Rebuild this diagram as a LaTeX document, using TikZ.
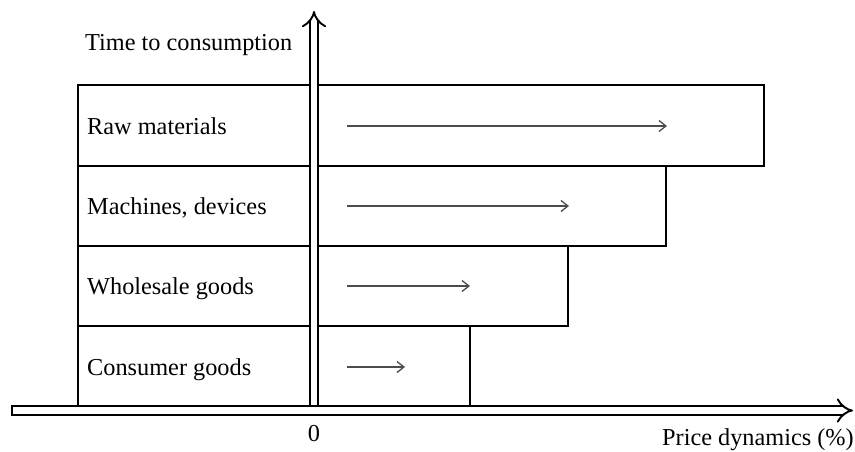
\documentclass[tikz,border=0pt]{standalone}
\usepackage{fontspec}
\setmainfont{Liberation Serif}
\usetikzlibrary{arrows.meta}
\begin{document}
\begin{tikzpicture}[x=1pt,y=-1pt,
  stepbox/.style={draw=black,line width=1.8pt,fill=white,rectangle,anchor=north west,inner sep=0pt},
  lbl/.style={anchor=base west,inner sep=0pt,font=\fontsize{24.3}{28}\selectfont},
  trend/.style={draw=black!70,line width=1.3pt,-{Straight Barb[length=7pt,width=11pt,line width=1.3pt]}},
  axis/.style={line width=1.9pt,double=white,double distance=6.5pt,-{Implies[length=9pt]}}]
\useasboundingbox (0,0) rectangle (855,451);
% boxes
\node[stepbox,minimum width=686,minimum height=81] (raw) at (77,84) {};
\node[stepbox,minimum width=588,minimum height=80] (mach) at (77,165) {};
\node[stepbox,minimum width=490,minimum height=80] (whole) at (77,245) {};
\node[stepbox,minimum width=392,minimum height=81] (cons) at (77,325) {};
% labels
\node[lbl] (lraw) at (87,134) {Raw materials};
\node[lbl] (lmach) at (87,214) {Machines, devices};
\node[lbl] (lwhole) at (87,294) {Wholesale goods};
\node[lbl] (lcons) at (87,375) {Consumer goods};
% trend arrows
\coordinate (a1) at (347,126); \coordinate (b1) at (667,126);
\coordinate (a2) at (347,206); \coordinate (b2) at (569,206);
\coordinate (a3) at (347,286); \coordinate (b3) at (470,286);
\coordinate (a4) at (347,367); \coordinate (b4) at (405,367);
\draw[trend] (a1) -- (b1);
\draw[trend] (a2) -- (b2);
\draw[trend] (a3) -- (b3);
\draw[trend] (a4) -- (b4);
% axes
\coordinate (vbot) at (314,410.5); \coordinate (vtop) at (314,11);
\coordinate (hl) at (12,410.5); \coordinate (hr) at (853,410.5);
\draw[axis] (vbot) -- (vtop);
\draw[axis] (hl) -- (hr);
\draw[line width=1.9pt] ([yshift=-5.2pt]hl) -- ([yshift=5.2pt]hl);
% axis labels
\node[lbl] (ty) at (85,50) {Time to consumption};
\node[lbl,anchor=base] (zero) at (314,441) {0};
\node[lbl,anchor=base east] (tx) at (854,445) {Price dynamics (\%)};
\end{tikzpicture}
\end{document}
